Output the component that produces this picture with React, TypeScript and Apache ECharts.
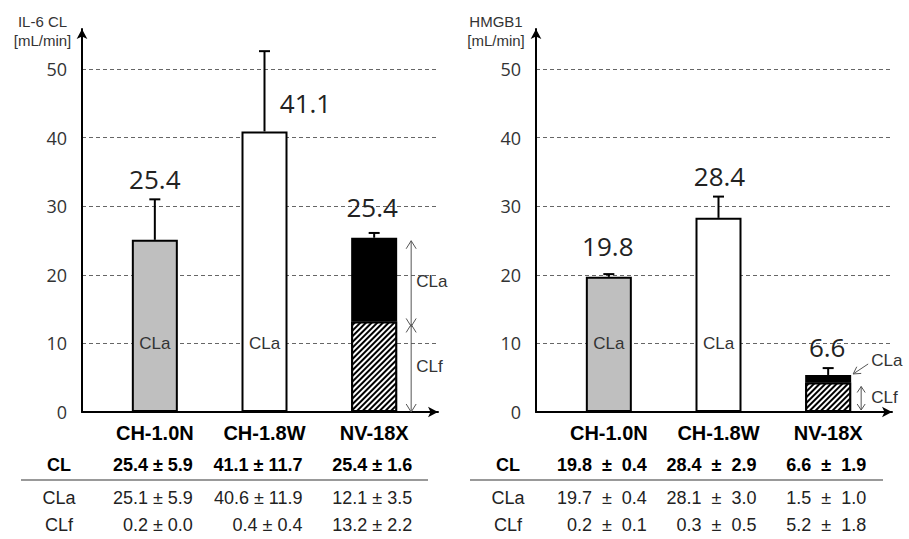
import React, { useEffect, useRef } from 'react';
import * as echarts from 'echarts';

// ---------- data ----------
const categories = ['CH-1.0N', 'CH-1.8W', 'NV-18X'];
const rowHeaders = ['CL', 'CLa', 'CLf'];
const yMin = 0;
const yMax = 50;
const yInterval = 10;

// IL-6 panel
const il6Title = ['IL-6 CL', '[mL/min]'];
const il6Cla = [25.1, 40.9, 12.2];
const il6Clf: (number | null)[] = [null, null, 13.2];
const il6Err = [5.9, 11.7, 0.7];
const il6Labels = ['25.4', '41.1', '25.4'];
const il6ClMean = [25.4, 41.1, 25.4];
const il6ClSd = [5.9, 11.7, 1.6];
const il6ClaMean = [25.1, 40.6, 12.1];
const il6ClaSd = [5.9, 11.9, 3.5];
const il6ClfMean = [0.2, 0.4, 13.2];
const il6ClfSd = [0.0, 0.4, 2.2];

// HMGB1 panel
const hmgTitle = ['HMGB1', '[mL/min]'];
const hmgCla = [19.7, 28.3, 1.1];
const hmgClf: (number | null)[] = [null, null, 4.3];
const hmgErr = [0.4, 3.1, 1.0];
const hmgLabels = ['19.8', '28.4', '6.6'];
const hmgClMean = [19.8, 28.4, 6.6];
const hmgClSd = [0.4, 2.9, 1.9];
const hmgClaMean = [19.7, 28.1, 1.5];
const hmgClaSd = [0.4, 3.0, 1.0];
const hmgClfMean = [0.2, 0.3, 5.2];
const hmgClfSd = [0.1, 0.5, 1.8];

// ---------- styles ----------
const barColors = ['#bfbfbf', '#ffffff', '#000000'];
const SANS = 'Liberation Sans, Arial, sans-serif';
const NUM = 'Open Sans, sans-serif';
const rowY = [465, 498, 525];
const hatchDecal = {
  symbol: 'rect',
  symbolSize: 1,
  color: '#ffffff',
  dashArrayX: [1, 0],
  dashArrayY: [2, 2],
  rotation: -Math.PI / 4,
};

function txt(text: string, x: number, y: number, align: string, extra: any = {}) {
  return {
    type: 'text',
    x,
    y,
    style: {
      text,
      fill: extra.fill || '#333',
      fontSize: extra.fontSize || 17,
      fontFamily: extra.fontFamily || SANS,
      fontWeight: extra.fontWeight || 'normal',
      align,
      textAlign: align,
      verticalAlign: 'middle',
      textVerticalAlign: 'middle',
      lineHeight: extra.lineHeight,
    },
  };
}

function head(tx: number, ty: number, ux: number, uy: number, L = 8, W = 5) {
  const bx = tx - ux * L;
  const by = ty - uy * L;
  return {
    type: 'polyline',
    shape: { points: [[bx - uy * W, by + ux * W], [tx, ty], [bx + uy * W, by - ux * W]] },
    style: { stroke: '#555', lineWidth: 1, fill: null },
  };
}

function doubleArrow(x: number, y1: number, y2: number, L = 8, W = 5) {
  return [
    { type: 'line', shape: { x1: x, y1, x2: x, y2 }, style: { stroke: '#555', lineWidth: 1 } },
    head(x, y1, 0, -1, L, W),
    head(x, y2, 0, 1, L, W),
  ];
}

function errRender(labels: string[], offsets: number[][]) {
  return (params: any, api: any) => {
    const i = api.value(0);
    const top = api.value(1);
    const err = api.value(2);
    const p0 = api.coord([i, top]);
    const p1 = api.coord([i, top + err]);
    const [dx, dy] = offsets[i];
    return {
      type: 'group',
      children: [
        { type: 'line', shape: { x1: p0[0], y1: p0[1], x2: p1[0], y2: p1[1] }, style: { stroke: '#000', lineWidth: 2 } },
        { type: 'line', shape: { x1: p1[0] - 5.5, y1: p1[1], x2: p1[0] + 5.5, y2: p1[1] }, style: { stroke: '#000', lineWidth: 2 } },
        txt(labels[i], p1[0] + dx, p1[1] - dy, 'center', { fontSize: 26, fontFamily: NUM, fill: '#222' }),
      ],
    };
  };
}

function annotLeft(params: any, api: any) {
  const i = api.value(0);
  const clf = api.value(1);
  const top = api.value(2);
  const pt = api.coord([i, top]);
  const pm = api.coord([i, clf]);
  const pb = api.coord([i, 0]);
  const x = pt[0] + 37;
  return {
    type: 'group',
    children: [
      ...doubleArrow(x, pt[1] + 3, pm[1] + 5),
      ...doubleArrow(x, pm[1] + 3, pb[1]),
      txt('CLa', x + 5, (pt[1] + pm[1]) / 2 + 2, 'left'),
      txt('CLf', x + 5, (pm[1] + pb[1]) / 2, 'left'),
    ],
  };
}

function annotRight(params: any, api: any) {
  const i = api.value(0);
  const clf = api.value(1);
  const top = api.value(2);
  const pt = api.coord([i, top]);
  const pm = api.coord([i, clf]);
  const pb = api.coord([i, 0]);
  const x = pt[0] + 33;
  const edge = pt[0] + 23;
  const sx = edge + 17, sy = pt[1] - 11, ex = edge + 2, ey = pt[1] - 1;
  const len = Math.hypot(ex - sx, ey - sy);
  return {
    type: 'group',
    children: [
      ...doubleArrow(x, pm[1] + 4, pb[1] - 2, 6, 4),
      txt('CLf', x + 10, (pm[1] + pb[1]) / 2, 'left'),
      { type: 'line', shape: { x1: sx, y1: sy, x2: ex, y2: ey }, style: { stroke: '#555', lineWidth: 1 } },
      head(ex, ey, (ex - sx) / len, (ey - sy) / len, 7, 4),
      txt('CLa', edge + 20, pt[1] - 14, 'left'),
    ],
  };
}

function fmt(m: number, s: number, sep: string) {
  return `${m.toFixed(1)}${sep}±${sep}${s.toFixed(1)}`;
}

function buildPanel(k: number, p: any) {
  const ox = p.ox;
  const gi = k * 3;
  const gridBase = { containLabel: false, outerBoundsMode: 'none' };
  const grid = [
    { ...gridBase, left: 82 + ox, top: 29, width: 356, height: 383 },
    { ...gridBase, left: 82 + ox, top: 69, width: 356, height: 343 },
    { ...gridBase, left: 100 + ox, top: 69, width: 329, height: 343 },
  ];
  const arrowLine = {
    show: true,
    onZero: true,
    lineStyle: { color: '#000', width: 2 },
    symbol: ['none', 'arrow'],
    symbolSize: [8, 10],
  };
  const hidden = {
    axisLine: { show: false },
    axisTick: { show: false },
    axisLabel: { show: false },
    splitLine: { show: false },
  };
  const xAxis = [
    { type: 'value', gridIndex: gi, min: 0, max: 1, ...hidden, axisLine: arrowLine },
    { type: 'value', gridIndex: gi + 1, min: 0, max: 1, ...hidden },
    {
      type: 'category',
      gridIndex: gi + 2,
      data: categories,
      axisLine: { show: false },
      axisTick: { show: false },
      splitLine: { show: false },
      axisLabel: { show: true, interval: 0, margin: 11, color: '#000', fontSize: 20, fontWeight: 'bold', fontFamily: SANS },
    },
  ];
  const yAxis = [
    { type: 'value', gridIndex: gi, min: 0, max: 1, ...hidden, axisLine: arrowLine },
    {
      type: 'value',
      gridIndex: gi + 1,
      min: yMin,
      max: yMax,
      interval: yInterval,
      axisLine: { show: false },
      axisTick: { show: false },
      axisLabel: { show: true, color: '#333', fontSize: 18, fontFamily: NUM, margin: 15 },
      splitLine: { show: true, lineStyle: { color: '#666', width: 1, type: [4, 3] } },
    },
    { type: 'value', gridIndex: gi + 2, min: yMin, max: yMax, interval: yInterval, ...hidden },
  ];
  const stack = 'st' + k;
  const tops = categories.map((_, i) => (p.cla[i] ?? 0) + (p.clf[i] ?? 0));
  const si = p.clf.findIndex((v: any) => v != null);
  const series = [
    {
      type: 'bar',
      name: 'CLf',
      xAxisIndex: gi + 2,
      yAxisIndex: gi + 2,
      stack,
      barWidth: 46,
      silent: true,
      data: p.clf.map((v: any) => (v == null ? '-' : v)),
      itemStyle: { color: '#000', borderColor: '#000', borderWidth: 2, decal: hatchDecal },
    },
    {
      type: 'bar',
      name: 'CLa',
      xAxisIndex: gi + 2,
      yAxisIndex: gi + 2,
      stack,
      barWidth: 46,
      silent: true,
      data: p.cla.map((v: number, i: number) => ({
        value: v,
        itemStyle: { color: barColors[i] },
        label: { show: p.clf[i] == null },
      })),
      itemStyle: { borderColor: '#000', borderWidth: 2 },
      label: {
        show: true,
        position: 'insideBottom',
        distance: 60,
        formatter: 'CLa',
        color: '#333',
        fontSize: 17,
        fontFamily: SANS,
      },
    },
    {
      type: 'custom',
      xAxisIndex: gi + 2,
      yAxisIndex: gi + 2,
      silent: true,
      z: 5,
      data: categories.map((_, i) => [i, tops[i], p.err[i]]),
      renderItem: errRender(p.labels, p.labelOffsets),
    },
    {
      type: 'custom',
      xAxisIndex: gi + 2,
      yAxisIndex: gi + 2,
      silent: true,
      z: 5,
      data: [[si, p.clf[si], tops[si]]],
      renderItem: p.annot,
    },
  ];

  const graphic: any[] = [];
  graphic.push(txt(p.title.join('\n'), p.titleX, 30.5, 'center', { fontSize: 15, lineHeight: 19, fill: '#333' }));
  rowHeaders.forEach((h, r) => {
    graphic.push(txt(h, p.headerX, rowY[r], 'center', { fontSize: 18, fontWeight: r === 0 ? 'bold' : 'normal', fill: r === 0 ? '#000' : '#222' }));
  });
  graphic.push({
    type: 'line',
    shape: { x1: p.sepX[0], y1: 480, x2: p.sepX[1], y2: 480 },
    style: { stroke: '#999', lineWidth: 2 },
  });
  const rows = [
    [p.clMean, p.clSd],
    [p.claMean, p.claSd],
    [p.clfMean, p.clfSd],
  ];
  rows.forEach(([means, sds], r) => {
    categories.forEach((_, i) => {
      const cx = 100 + ox + (329 * (i + 0.5)) / 3;
      graphic.push(
        txt(fmt(means[i], sds[i], p.sep), cx + 38, rowY[r], 'right', {
          fontSize: 18,
          fontWeight: r === 0 ? 'bold' : 'normal',
          fill: r === 0 ? '#000' : '#222',
        })
      );
    });
  });
  return { grid, xAxis, yAxis, series, graphic };
}

function buildOption() {
  const left = buildPanel(0, {
    ox: 0,
    title: il6Title,
    titleX: 42.5,
    headerX: 59,
    sepX: [21, 428],
    sep: '\u00a0',
    cla: il6Cla,
    clf: il6Clf,
    err: il6Err,
    labels: il6Labels,
    labelOffsets: [[0, 20], [41, -52], [-2, 26]],
    annot: annotLeft,
    clMean: il6ClMean,
    clSd: il6ClSd,
    claMean: il6ClaMean,
    claSd: il6ClaSd,
    clfMean: il6ClfMean,
    clfSd: il6ClfSd,
  });
  const right = buildPanel(1, {
    ox: 454,
    title: hmgTitle,
    titleX: 496,
    headerX: 508,
    sepX: [470, 883],
    sep: '\u00a0\u00a0',
    cla: hmgCla,
    clf: hmgClf,
    err: hmgErr,
    labels: hmgLabels,
    labelOffsets: [[-1, 28], [1, 21], [-1, 21]],
    annot: annotRight,
    clMean: hmgClMean,
    clSd: hmgClSd,
    claMean: hmgClaMean,
    claSd: hmgClaSd,
    clfMean: hmgClfMean,
    clfSd: hmgClfSd,
  });
  return {
    animation: false,
    backgroundColor: '#ffffff',
    grid: [...left.grid, ...right.grid],
    xAxis: [...left.xAxis, ...right.xAxis],
    yAxis: [...left.yAxis, ...right.yAxis],
    series: [...left.series, ...right.series],
    graphic: [...left.graphic, ...right.graphic],
  };
}

export default function App() {
  const ref = useRef<HTMLDivElement>(null);
  useEffect(() => {
    document.body.style.margin = '0';
    const chart = echarts.init(ref.current!, null, { renderer: 'svg', width: 909, height: 539 });
    chart.setOption(buildOption() as any);
    return () => chart.dispose();
  }, []);
  return <div ref={ref} style={{ position: 'absolute', left: 0, top: 0, width: 909, height: 539 }} />;
}
